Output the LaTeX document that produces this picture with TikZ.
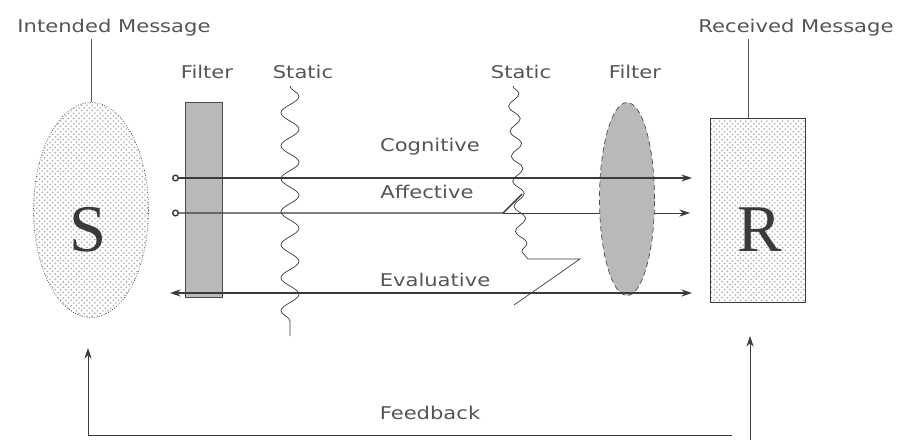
\documentclass[tikz,border=0pt]{standalone}
\usepackage{fontspec}
\newfontfamily\lblfont{DejaVu Sans}[FakeStretch=1.2]
\newfontfamily\bigfont{Liberation Serif}
\usetikzlibrary{arrows.meta, shapes.geometric, patterns, decorations.pathmorphing}
\definecolor{inkgray}{HTML}{3A3A3A}
\definecolor{textgray}{HTML}{555555}

\begin{document}
\begin{tikzpicture}[
  x=0.02cm, y=-0.02cm,
  lbl/.style={font=\lblfont\fontsize{10}{12}\selectfont, text=textgray, inner sep=1pt},
  letter/.style={font=\bigfont\fontsize{38}{38}\selectfont, text=inkgray, inner sep=0pt},
  party/.style={pattern=crosshatch dots, pattern color=gray!70, draw=inkgray,
                thin, inner sep=0pt},
  filterbar/.style={rectangle, fill=gray!55, draw=gray!60!black, thin,
                minimum width=0.74cm, minimum height=3.9cm},
  filterlens/.style={ellipse, fill=gray!55, draw=gray!60!black, densely dashed, thin,
                minimum width=1.1cm, minimum height=3.86cm},
  channel/.style={thick, color=inkgray},
  thinchannel/.style={thin, color=inkgray},
  lead/.style={thin, color=gray!70!black},
  noise/.style={decorate, thin, color=inkgray,
                decoration={snake, amplitude=0.18cm, segment length=0.66cm}},
  noisefine/.style={decorate, thin, color=inkgray,
                decoration={snake, amplitude=0.11cm, segment length=0.5cm}},
  tip/.style={-{Stealth[length=6pt,width=4pt]}},
]
  % Fix the page to the reference size
  \useasboundingbox (0,0) rectangle (899,440);

  % Sender and receiver
  \node[party, densely dotted, ellipse, minimum width=2.3cm, minimum height=4.3cm] (S) at (91,210) {};
  \node[letter] (Stxt) at (88,230) {S};
  \node[party, rectangle, minimum width=1.9cm, minimum height=3.68cm] (R) at (758,210) {};
  \node[letter] (Rtxt) at (760,230) {R};

  % Labels
  \node[lbl] (msgIn)  at (114,28) {Intended Message};
  \node[lbl] (msgOut) at (796,28) {Received Message};
  \node[lbl] (fil1)   at (207,72) {Filter};
  \node[lbl] (st1)    at (303,72) {Static};
  \node[lbl] (st2)    at (521,72) {Static};
  \node[lbl] (fil2)   at (635,72) {Filter};
  \node[lbl] (cog)    at (430,147) {Cognitive};
  \node[lbl] (aff)    at (427,192) {Affective};
  \node[lbl] (eval)   at (435,280) {Evaluative};
  \node[lbl] (fb)     at (430,413) {Feedback};

  % Channel ends
  \coordinate (cogL) at (172,178);
  \coordinate (cogR) at (692,178);
  \coordinate (affL) at (172,213);
  \coordinate (affK) at (503,213);
  \coordinate (affU) at (522,194);
  \coordinate (affR) at (690,213);
  \coordinate (evL)  at (170,293);
  \coordinate (evR)  at (692,293);

  % Static paths
  \coordinate (s1a) at (290,86);
  \coordinate (s1b) at (290,336);
  \coordinate (s2a) at (513,86);
  \coordinate (s2b) at (522,252);
  \coordinate (s2c) at (528,259);
  \coordinate (s2d) at (580,259);
  \coordinate (s2e) at (514,305);

  % Feedback loop
  \coordinate (fbS)  at (88,348);
  \coordinate (fbC)  at (88,435);
  \coordinate (fbE)  at (732,435);
  \coordinate (fbR)  at (750,336);
  \coordinate (fbRb) at (750,440);

  % Leads to the labels
  \draw[lead] (S.north) -- (S.north |- msgIn.south);
  \draw[lead] ([xshift=-0.2cm]R.north) -- ([xshift=-0.2cm]R.north |- msgOut.south);

  % Filter bar, then the affective line hidden by the lens
  \node[filterbar]  (F1) at (204,200) {};
  \draw[thinchannel, tip] (affK) -- (affR);
  \node[filterlens] (F2) at (627,199) {};

  % Static
  \draw[noise] (s1a) -- (s1b);
  \draw[noisefine] (s2a) -- (s2b);
  \draw[thinchannel] (s2b) -- (s2c) -- (s2d) -- (s2e);

  % Flows
  \draw[channel, {Circle[open,length=4pt]}-{Stealth[length=6pt,width=4pt]}] (cogL) -- (cogR);
  \draw[channel, {Circle[open,length=4pt]}-] (affL) -- (affK) -- (affU);
  \draw[channel, {Stealth[length=6pt,width=4pt]}-{Stealth[length=6pt,width=4pt]}] (evL) -- (evR);

  % Feedback
  \draw[thinchannel, tip] (fbE) -- (fbC) -- (fbS);
  \draw[thinchannel, tip] (fbRb) -- (fbR);
\end{tikzpicture}
\end{document}
